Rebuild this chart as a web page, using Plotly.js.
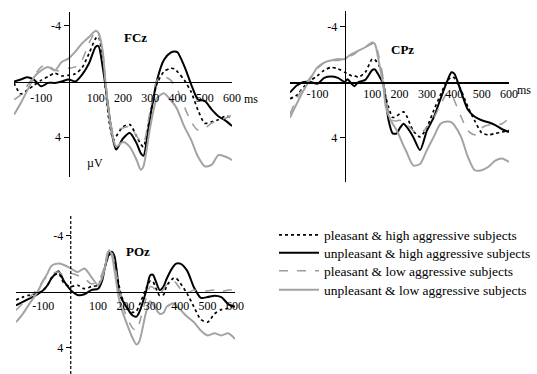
<!DOCTYPE html>
<html>
<head>
<meta charset="utf-8">
<script src="https://cdn.plot.ly/plotly-3.0.1.min.js"></script>
<style>
html, body { margin: 0; padding: 0; background: #ffffff; overflow: hidden; width: 537px; height: 374px; }
#chart { width: 537px; height: 374px; }
</style>
</head>
<body>
<div id="chart"></div>
<script>
// ---------------- DATA ----------------
const seriesNames = [
  'pleasant & high aggressive subjects',
  'unpleasant & high aggressive subjects',
  'pleasant & low aggressive subjects',
  'unpleasant & low aggressive subjects'
];
const panelNames = ['FCz', 'CPz', 'POz'];
const xTickVals = [-100, 100, 200, 300, 400, 500, 600];
const xTickText = ['-100', '100', '200', '300', '400', '500', '600'];
const yTickVals = [-4, 4];
const yTickText = ['-4', '4'];

// FCz (time in ms, amplitude in µV, negative up)
const fczTime = [-200,-175,-150,-125,-100,-75,-50,-25,0,25,50,75,100,110,125,135,150,165,175,200,225,250,265,275,300,325,350,375,390,400,425,450,475,500,525,550,575,600];
const fczPleasantHigh   = [0.1,0.9,0.6,0.25,-0.1,-0.35,-0.6,-0.4,-0.45,-0.55,-1.0,-2.0,-3.1,-3.2,-1.65,0.35,3.0,4.2,3.95,3.25,3.1,3.95,4.5,4.7,2.4,0.15,-0.7,-0.95,-0.9,-0.7,-0.1,0.75,2.05,3.0,2.9,2.75,2.5,2.6];
const fczUnpleasantHigh = [0,-0.15,-0.3,-0.1,0.35,0.1,0.1,0,-0.15,0,-0.5,-1.3,-2.5,-2.55,-1.1,0.2,2.5,4.3,4.9,4.1,3.7,4.45,5.15,5.35,2.5,-0.1,-1.55,-2.07,-2.15,-2.1,-1.1,0.2,1.3,1.4,2.0,2.5,2.8,3.2];
const fczPleasantLow    = [1.3,0.95,0.25,-0.45,-1.05,-1.2,-0.8,-0.8,-0.95,-1.05,-1.55,-2.75,-3.6,-3.4,-2.25,-0.35,2.3,3.75,3.5,3.35,3.25,3.95,4.3,4.45,2.05,-0.1,-0.35,-0.1,0.3,0.6,1.8,2.9,3.5,3.35,3.0,2.75,2.65,2.4];
const fczUnpleasantLow  = [2.4,1.55,0.6,-0.35,-0.8,-1.05,-0.8,-1.4,-1.65,-2.15,-2.75,-3.2,-3.65,-3.5,-2.25,-0.1,2.55,4.2,4.7,4.35,4.7,5.65,6.35,6.1,3.25,1.2,0.85,1.35,1.7,2.05,3.25,4.2,5.4,6.1,6.0,5.3,5.4,5.65];

// CPz
const cpzTime = [-200,-175,-150,-125,-100,-75,-50,-25,0,10,25,35,50,75,100,110,125,140,150,160,175,190,200,215,225,250,275,300,325,350,375,390,400,425,450,475,500,525,550,575,600];
const cpzPleasantHigh   = [1.2,0.95,0.35,-0.1,-0.45,-0.85,-1.05,-0.95,-0.7,-0.6,-0.45,-0.45,-0.35,-0.7,-1.65,-1.6,-1.2,-0.1,1.1,1.8,2.55,2.45,2.3,2.15,2.4,3.5,3.95,3.25,2.05,0.9,-0.1,-0.35,-0.3,0.6,1.8,2.8,3.65,3.8,3.7,3.6,3.5];
const cpzUnpleasantHigh = [0.75,0.25,0,0,0.13,-0.3,-0.4,-0.3,0,-0.2,0.13,0.3,0,-0.15,-0.85,-0.9,-0.45,0.13,1.3,2.75,3.7,3.7,3.35,3.0,3.2,3.95,4.9,3.5,2.55,1.2,-0.1,-0.7,-0.6,0.7,2.0,2.5,2.75,2.9,3.1,3.4,3.6];
const cpzPleasantLow    = [2.3,1.2,0.35,-0.35,-0.95,-1.4,-1.55,-1.55,-1.65,-1.75,-1.9,-2.0,-2.25,-2.5,-2.75,-2.85,-1.8,-0.35,1.3,2.1,2.75,2.8,2.75,2.85,3.0,3.5,3.7,3.25,2.6,1.6,0.8,0.9,1.3,2.5,3.5,3.8,3.3,3.1,3.1,3.0,2.6];
const cpzUnpleasantLow  = [2.55,1.55,0.6,-0.25,-1.05,-1.4,-1.55,-1.65,-1.65,-1.8,-2.0,-2.1,-2.25,-2.5,-2.85,-2.75,-1.4,0.13,1.8,2.4,3.0,3.5,3.9,4.6,5.0,6.0,5.9,4.9,3.95,3.0,2.85,2.9,3.1,3.95,5.4,6.35,6.35,6.1,5.65,5.5,5.75];

// POz
const pozTime = [-200,-175,-150,-125,-100,-85,-70,-45,-25,0,25,50,75,100,115,125,140,150,160,175,185,200,225,240,250,275,290,300,325,340,350,375,385,400,425,450,475,500,525,550,575,600];
const pozPleasantHigh   = [0.6,0.4,0.25,0.15,-0.1,-0.45,-1.0,-1.3,-0.6,-0.35,-0.45,-0.2,-0.35,-0.45,-1.1,-1.75,-2.6,-2.7,-2.25,-0.55,0.3,1.0,1.5,1.4,1.0,-0.2,-0.75,-0.7,0.3,0.2,-0.4,-0.95,-0.95,-0.6,0.15,1.1,2.0,2.2,1.6,1.3,1.2,0.95];
const pozUnpleasantHigh = [1.0,0.75,0.5,0.25,-0.1,-0.45,-0.95,-1.45,-0.75,-0.1,0.25,0.2,-0.1,-0.2,-0.8,-1.75,-2.7,-2.85,-2.5,-0.3,0.5,1.0,1.7,1.8,1.5,0.0,-1.15,-1.2,-0.1,-0.4,-0.9,-1.8,-2.0,-2.0,-1.5,-0.3,0.45,0.4,0.3,0.4,0.9,1.1];
const pozPleasantLow    = [1.35,0.85,0.4,-0.1,-0.8,-1.1,-1.3,-1.4,-1.15,-1.3,-1.15,-0.95,-0.55,-0.7,-1.3,-2.0,-3.1,-2.85,-2.0,-0.35,0.6,1.6,2.6,2.8,2.3,0.5,-0.35,-0.3,0.15,-0.2,-0.5,-0.75,-0.6,-0.2,0.1,-0.1,0,-0.05,-0.1,0,-0.1,-0.1];
const pozUnpleasantLow  = [2.2,1.6,0.85,0.15,-0.8,-1.3,-1.85,-2.0,-1.9,-1.65,-1.4,-1.65,-1.05,-0.45,-1.0,-1.75,-2.95,-2.6,-1.5,0.4,1.2,2.05,3.3,3.8,3.6,1.5,0.7,0.9,1.6,1.5,1.1,0.85,1.0,1.3,1.8,2.2,2.8,3.15,3.0,3.15,3.0,3.4];

// ---------------- STYLE / LAYOUT ----------------
const W = 537, H = 374;
const SERIF = 'Liberation Serif, Times New Roman, serif';
const lineStyles = [
  { color: '#000000', width: 1.7, dash: 'dot' },
  { color: '#000000', width: 2.0, dash: 'solid' },
  { color: '#9c9c9c', width: 1.5, dash: 'dash' },
  { color: '#a3a3a3', width: 2.0, dash: 'solid' }
];
// legend rows (pixel centres)
const legendRowsPx = [235, 253, 271, 290];
const legendIds = ['legend', 'legend2', 'legend3', 'legend4'];

// panel frames in pixels: left, right, top, bottom, pixel row of 0 µV, px per µV
const panels = [
  { time: fczTime, values: [fczPleasantHigh, fczUnpleasantHigh, fczPleasantLow, fczUnpleasantLow],
    box: { l: 14, r: 232, t: 12, b: 177, zero: 81.5, ppu: 13.9 }, xTickLen: 5, dashedY: false,
    title: { x: 135, y: 38 }, unit: { x: 251, y: 99 } },
  { time: cpzTime, values: [cpzPleasantHigh, cpzUnpleasantHigh, cpzPleasantLow, cpzUnpleasantLow],
    box: { l: 290, r: 509, t: 11, b: 182, zero: 82, ppu: 13.9 }, xTickLen: 0, dashedY: false,
    title: { x: 402, y: 50 }, unit: { x: 524, y: 90 } },
  { time: pozTime, values: [pozPleasantHigh, pozUnpleasantHigh, pozPleasantLow, pozUnpleasantLow],
    box: { l: 16, r: 235, t: 214, b: 374, zero: 291.5, ppu: 13.95 }, xTickLen: 3, dashedY: true,
    title: { x: 138, y: 251 }, unit: null }
];
const xRange = [-200, 600];

const traces = [];
const layout = {
  width: W, height: H,
  margin: { l: 0, r: 0, t: 0, b: 0, pad: 0 },
  paper_bgcolor: '#ffffff', plot_bgcolor: 'rgba(0,0,0,0)',
  font: { family: SERIF, color: '#000000', size: 12 },
  showlegend: true,
  annotations: [],
  shapes: []
};
legendIds.forEach((id, k) => {
  layout[id] = {
    x: 274 / W, y: 1 - legendRowsPx[k] / H, xanchor: 'left', yanchor: 'middle',
    font: { family: SERIF, size: 13.5, color: '#000000' },
    bgcolor: 'rgba(0,0,0,0)', borderwidth: 0, itemwidth: 40
  };
});

panels.forEach((p, i) => {
  const sfx = i === 0 ? '' : String(i + 1);
  const xa = 'x' + sfx, ya = 'y' + sfx;
  const bx = p.box;
  const yRange = [(bx.b - bx.zero) / bx.ppu, (bx.t - bx.zero) / bx.ppu];
  const xDom = [bx.l / W, bx.r / W];
  const yDom = [1 - bx.b / H, 1 - bx.t / H];
  const zeroYPaper = 1 - bx.zero / H;
  const zeroXPaper = xDom[0] + (xDom[1] - xDom[0]) * (0 - xRange[0]) / (xRange[1] - xRange[0]);

  p.values.forEach((vals, k) => {
    traces.push({
      type: 'scatter', mode: 'lines',
      x: p.time, y: vals, xaxis: xa, yaxis: ya,
      name: seriesNames[k], legend: legendIds[k], showlegend: i === 0,
      line: Object.assign({ shape: 'spline', smoothing: 0.7 }, lineStyles[k]),
      hoverinfo: 'skip'
    });
  });

  layout['xaxis' + sfx] = {
    domain: xDom, range: xRange, anchor: 'free', position: zeroYPaper,
    showline: true, linecolor: '#000000', linewidth: 1.5,
    showgrid: false, zeroline: false,
    tickmode: 'array', tickvals: xTickVals, ticktext: xTickText,
    ticks: p.xTickLen > 0 ? 'outside' : '', ticklen: p.xTickLen, tickcolor: 'rgba(0,0,0,0)',
    tickfont: { family: SERIF, size: 12, color: '#000000' },
    fixedrange: true
  };
  layout['yaxis' + sfx] = {
    domain: yDom, range: yRange, anchor: 'free', position: zeroXPaper,
    showline: !p.dashedY, linecolor: '#000000', linewidth: 1.5,
    showgrid: false, zeroline: false,
    tickmode: 'array', tickvals: yTickVals, ticktext: yTickText,
    ticks: 'outside', ticklen: 5, tickwidth: 1, tickcolor: '#000000',
    tickfont: { family: SERIF, size: 12, color: '#000000' },
    fixedrange: true
  };
  if (p.dashedY) {
    layout.shapes.push({
      type: 'line', xref: xa, yref: ya, x0: 0, x1: 0, y0: yRange[0], y1: yRange[1],
      line: { color: '#000000', width: 1.2, dash: '3px,2px' }
    });
  }
  layout.annotations.push({
    xref: 'paper', yref: 'paper', x: p.title.x / W, y: 1 - p.title.y / H,
    xanchor: 'center', yanchor: 'middle', showarrow: false,
    text: '<b>' + panelNames[i] + '</b>',
    font: { family: SERIF, size: 13, color: '#000000' }
  });
  if (p.unit) {
    layout.annotations.push({
      xref: 'paper', yref: 'paper', x: p.unit.x / W, y: 1 - p.unit.y / H,
      xanchor: 'center', yanchor: 'middle', showarrow: false, text: 'ms',
      font: { family: SERIF, size: 12, color: '#000000' }
    });
  }
});

// amplitude unit label
layout.annotations.push(
  { xref: 'paper', yref: 'paper', x: 95 / W, y: 1 - 163 / H, xanchor: 'center', yanchor: 'middle',
    showarrow: false, text: 'µV', font: { family: SERIF, size: 12, color: '#000000' } }
);

Plotly.newPlot('chart', traces, layout, { displayModeBar: false, staticPlot: true });
</script>
</body>
</html>
